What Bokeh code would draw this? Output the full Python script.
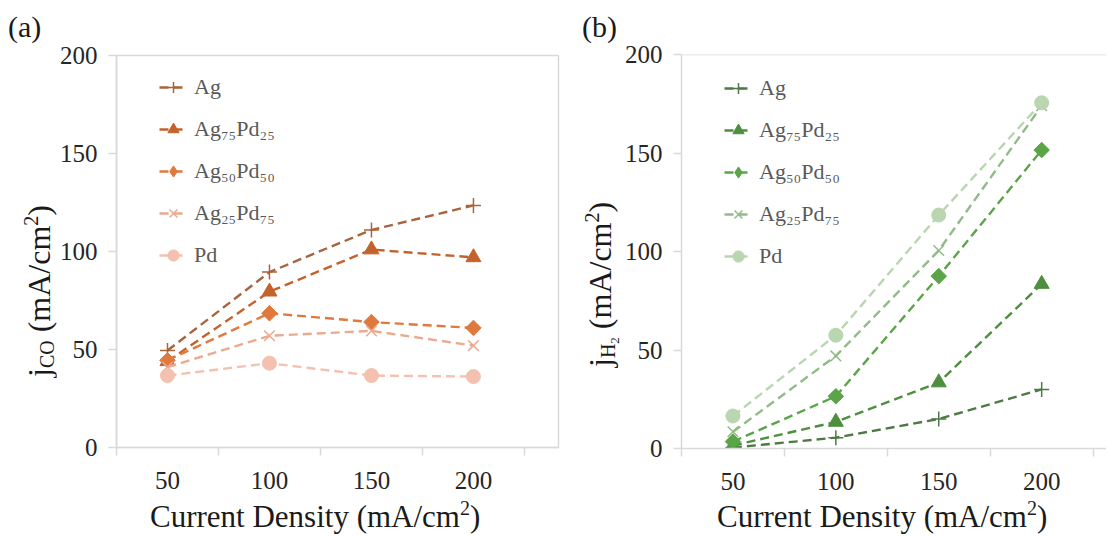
import math
from bokeh.plotting import figure
from bokeh.layouts import row, column
from bokeh.models import Legend, LegendItem, FixedTicker, Range1d, Span, Div
from bokeh.embed import file_html
from bokeh.resources import INLINE

# ---------------- data ----------------
current_density = [50, 100, 150, 200]
series_names = ["Ag", "Ag₇₅Pd₂₅", "Ag₅₀Pd₅₀", "Ag₂₅Pd₇₅", "Pd"]

j_co_ag = [49.5, 89.5, 111.0, 123.5]
j_co_ag75pd25 = [44.0, 79.5, 101.0, 97.0]
j_co_ag50pd50 = [44.5, 68.5, 64.0, 61.0]
j_co_ag25pd75 = [41.0, 57.0, 59.5, 52.0]
j_co_pd = [36.7, 43.0, 36.7, 36.2]

j_h2_ag = [0.5, 5.5, 15.0, 30.0]
j_h2_ag75pd25 = [1.5, 13.5, 33.5, 83.5]
j_h2_ag50pd50 = [3.5, 26.5, 87.5, 151.5]
j_h2_ag25pd75 = [8.5, 47.0, 100.5, 174.0]
j_h2_pd = [16.5, 57.5, 118.5, 175.5]

y_ticks = [0, 50, 100, 150, 200]
x_ticks = [50, 100, 150, 200]
x_minor_ticks = [25, 75, 125, 175, 225]

x_title = [("Current Density (mA/cm", 31, 0), ("2", 20, -12), (")", 31, 0)]
y_title_a = [("j", 32, 0), ("CO", 20, 4), (" (mA/cm", 32, 0), ("2", 20, -12), (")", 32, 0)]
y_title_b = [("j", 32, 0), ("H", 20, 4), ("2", 13, 8), (" (mA/cm", 32, 0), ("2", 20, -12), (")", 32, 0)]

# ---------------- style ----------------
markers = ["cross", "triangle", "square", "x", "circle"]
marker_sizes = [15, 15, 11, 15, 14]
marker_angles = [0, 0, math.pi / 4, 0, 0]
legend_markers = ["cross", "triangle", "diamond", "x", "circle"]
legend_sizes = [15, 15, 14, 15, 14]
orange_colors = ["#A8643C", "#C4622D", "#E0793E", "#EBAA90", "#F4C1B0"]
green_colors = ["#4D7A44", "#4D8F3E", "#5BA548", "#91BB88", "#B9D6B0"]
SERIF = "Liberation Serif"
AX_GRAY = "#D9D9D9"
TOTAL_H = 535
PANEL_H = 499
TXT = "#1a1a1a"


def rich_html(pieces):
    out = []
    for text, size, shift in pieces:
        out.append(f'<span style="font-size:{size}px;position:relative;top:{shift}px">{text}</span>')
    return "".join(out)


def box(width, height, blocks):
    inner = []
    for left, top, size, html, rotated in blocks:
        rot = "transform:rotate(-90deg);transform-origin:0 0;" if rotated else ""
        inner.append(
            f'<div style="position:absolute;left:{left}px;top:{top}px;white-space:nowrap;'
            f"font-family:'{SERIF}',serif;font-size:{size}px;line-height:{size}px;"
            f'color:{TXT};{rot}">{html}</div>')
    html = (f'<div style="position:relative;width:{width}px;height:{height}px;'
            f'margin:0;padding:0;overflow:visible">' + "".join(inner) + "</div>")
    return Div(text=html, width=width, height=height, margin=0)


def make_panel(series, colors, frame_w, x_end, border_left, border_right, top, frame_h, outline):
    p = figure(width=border_left + frame_w + border_right, height=PANEL_H,
               x_range=Range1d(25, x_end), y_range=Range1d(0, 200),
               output_backend="svg", toolbar_location=None,
               min_border_left=border_left, min_border_right=border_right,
               min_border_top=top, min_border_bottom=PANEL_H - top - frame_h)
    p.grid.visible = False
    p.background_fill_color = "white"
    p.border_fill_color = "white"
    if outline:
        p.outline_line_color = AX_GRAY
        p.outline_line_width = 1.5
    else:
        p.outline_line_color = None
        p.add_layout(Span(location=200, dimension="width", line_color=AX_GRAY, line_width=1.5))

    p.yaxis.ticker = FixedTicker(ticks=y_ticks)
    p.xaxis.ticker = FixedTicker(ticks=x_ticks, minor_ticks=x_minor_ticks)
    for ax in (p.xaxis[0], p.yaxis[0]):
        ax.axis_line_color = AX_GRAY
        ax.axis_line_width = 1.5
        ax.major_label_text_font = SERIF
        ax.major_label_text_font_size = "25px"
        ax.major_label_text_color = "#262626"
    p.yaxis.major_tick_line_color = AX_GRAY
    p.yaxis.major_tick_line_width = 1.5
    p.yaxis.major_tick_out = 8
    p.yaxis.major_tick_in = 0
    p.yaxis.minor_tick_line_color = None
    p.yaxis.minor_tick_out = 0
    p.yaxis.major_label_standoff = 11
    p.xaxis.major_tick_line_color = None
    p.xaxis.major_tick_out = 8
    p.xaxis.major_tick_in = 0
    p.xaxis.minor_tick_line_color = AX_GRAY
    p.xaxis.minor_tick_line_width = 1.5
    p.xaxis.minor_tick_out = 8
    p.xaxis.minor_tick_in = 0
    p.xaxis.major_label_standoff = 16

    items = []
    for name, ys, col, mk, ms, ang, lmk, lms in zip(series_names, series, colors, markers,
                                                    marker_sizes, marker_angles,
                                                    legend_markers, legend_sizes):
        l = p.line(current_density, ys, line_color=col, line_width=2.4, line_dash="9 5")
        legend_marker = None
        if lmk != mk:
            # same-colour diamond underneath the rotated square; used as legend sample
            legend_marker = p.scatter(current_density, ys, marker=lmk, size=lms,
                                      line_color=col, fill_color=col, line_width=1)
        if mk in ("cross", "x"):
            s = p.scatter(current_density, ys, marker=mk, size=ms, line_color=col,
                          line_width=1.5, fill_color=None)
        else:
            s = p.scatter(current_density, ys, marker=mk, size=ms, angle=ang, line_color=col,
                          fill_color=col, line_width=1)
        items.append(LegendItem(label=name, renderers=[l, legend_marker or s]))
    leg = Legend(items=items, location=(43, 171), padding=5, margin=0, spacing=0,
                 glyph_width=28, glyph_height=42, label_height=42, label_standoff=7,
                 label_text_font=SERIF, label_text_font_size="22px",
                 label_text_color="#595959", background_fill_alpha=0,
                 border_line_color=None)
    p.add_layout(leg)
    return p


# ---------------- panel (a) ----------------
STRIP_A = 56
pa = make_panel([j_co_ag, j_co_ag75pd25, j_co_ag50pd50, j_co_ag25pd75, j_co_pd],
                orange_colors, 445, 241.7, 57, 2, 55, 392, True)
strip_a = box(STRIP_A, TOTAL_H, [
    (8, 12, 30, "(a)", False),
    (23, 377, 32, rich_html(y_title_a), True),
])
xlab_a = box(pa.width, TOTAL_H - PANEL_H, [
    (150 - STRIP_A, 2, 31, rich_html(x_title), False),
])

# ---------------- panel (b) ----------------
X_B = STRIP_A + pa.width
STRIP_B = 678 - 57 - X_B
pb = make_panel([j_h2_ag, j_h2_ag75pd25, j_h2_ag50pd50, j_h2_ag25pd75, j_h2_pd],
                green_colors, 428, 231.5, 57, 0, 54, 394, False)
strip_b = box(STRIP_B, TOTAL_H, [
    (582 - X_B, 12, 30, "(b)", False),
    (611 - X_B - 27, 367, 32, rich_html(y_title_b), True),
])
xlab_b = box(pb.width, TOTAL_H - PANEL_H, [
    (717 - X_B - STRIP_B, 2, 31, rich_html(x_title), False),
])

layout = row(strip_a, column(pa, xlab_a), strip_b, column(pb, xlab_b))
open("out.html", "w").write(file_html(layout, INLINE))
